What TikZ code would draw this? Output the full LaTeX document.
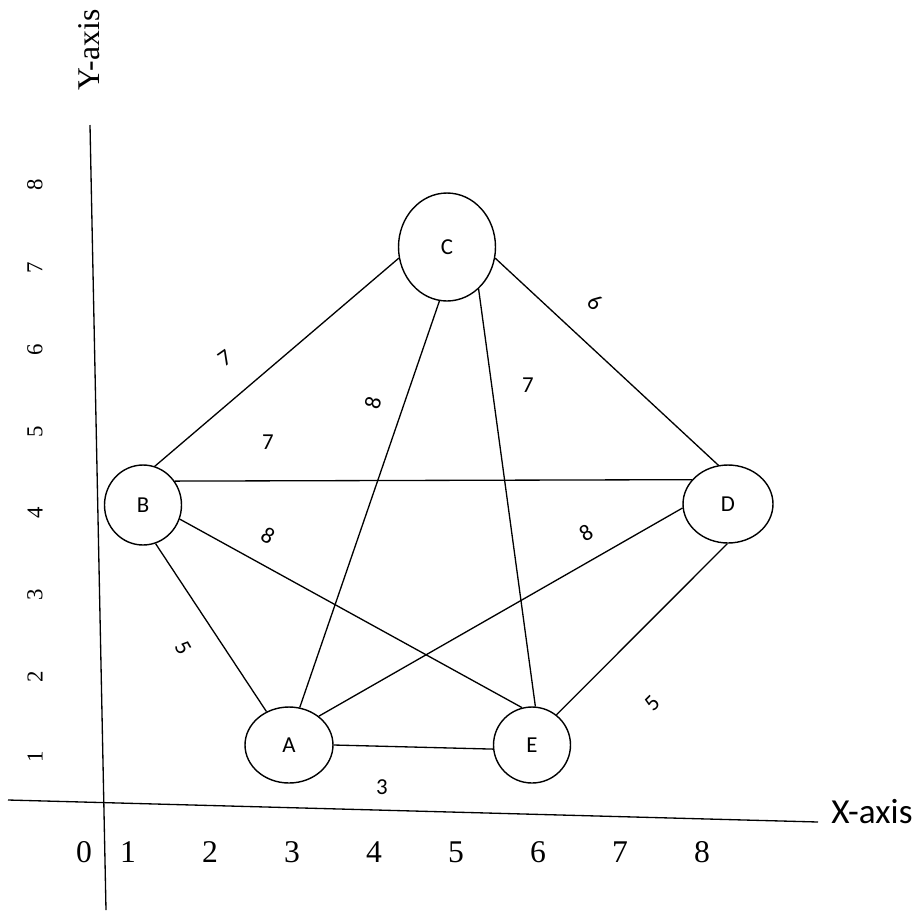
\documentclass[tikz,border=0pt]{standalone}
\usepackage{fontspec}
\setmainfont{Liberation Serif}
\newfontfamily\calfont{Carlito}
\usetikzlibrary{shapes,arrows,positioning,calc}

\begin{document}
\begin{tikzpicture}
[
  x=0.02cm, y=-0.02cm,
  vertex/.style={draw, ellipse, line width=0.8pt, inner sep=0pt, font=\calfont\fontsize{13}{15}\selectfont},
  weight/.style={inner sep=0pt, font=\calfont\fontsize{13}{15}\selectfont},
  xtick/.style={inner sep=0pt, font=\fontsize{18}{20}\selectfont},
  ytick/.style={inner sep=0pt, rotate=90, font=\fontsize{13}{15}\selectfont},
  every edge/.style={draw, -, line width=0.75pt}
]
\useasboundingbox (0,0) rectangle (916,910);

% axes
\coordinate (ytop) at (90,125);
\coordinate (ybot) at (106,910);
\coordinate (xleft) at (8,800);
\coordinate (xright) at (818,822);
\draw (ytop) edge (ybot);
\draw (xleft) edge (xright);
\node[anchor=west, inner sep=0pt, font=\calfont\fontsize{20}{22}\selectfont] (xlabel) at (831,812) {X-axis};
\node[rotate=90, inner sep=0pt, font=\fontsize{18}{20}\selectfont] (ylabel) at (89,50) {Y-axis};

\foreach \n/\x in {0/84,1/128,2/210,3/292,4/374,5/456,6/538,7/620,8/702}
  \node[xtick] (x\n) at (\x,852) {\n};
\foreach \n/\y in {1/757,2/677,3/595,4/513,5/432,6/350,7/268,8/185}
  \node[ytick] (y\n) at (35,\y) {\n};

% vertices
\node[vertex, minimum width=1.94cm, minimum height=2.16cm] (C) at (447,247) {C};
\node[vertex, minimum width=1.54cm, minimum height=1.6cm] (B) at (143,505) {B};
\node[vertex, minimum width=1.8cm, minimum height=1.56cm] (D) at (728,504) {D};
\node[vertex, minimum width=1.76cm, minimum height=1.52cm] (A) at (289,745) {A};
\node[vertex, minimum width=1.54cm, minimum height=1.52cm] (E) at (532,745) {E};

% edges
\draw (B.73) edge (C.193);
\draw (C.262) edge (A.74);
\draw (C.307) edge (E.85);
\draw (C.347) edge (D.104);
\draw (B.37) edge (D.146);
\draw (B.339) edge (E.105);
\draw (B.288) edge (A.124);
\draw (A.44) edge (D.185);
\draw (A.0) edge (E.186);
\draw (E.51) edge (D.269);

% weights
\node[weight, rotate=35] (wbc) at (225,358) {7};
\node[weight] (wbd) at (268,442) {7};
\node[weight, rotate=75] (wca) at (373,403) {8};
\node[weight] (wce) at (528,385) {7};
\node[weight, rotate=-40] (wcd) at (595,302) {6};
\node[weight, rotate=-30] (wbe) at (268,536) {8};
\node[weight, rotate=30] (wad) at (586,533) {8};
\node[weight, rotate=-60] (wba) at (183,648) {5};
\node[weight, rotate=45] (wed) at (652,703) {5};
\node[weight] (wae) at (382,787) {3};
\end{tikzpicture}
\end{document}
